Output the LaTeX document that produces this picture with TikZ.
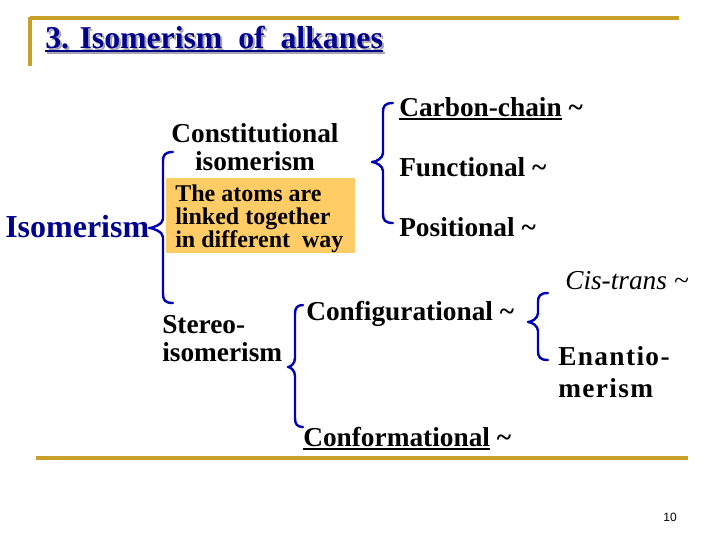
\documentclass[tikz,border=0pt]{standalone}
\usepackage{fontspec}
\setmainfont{Liberation Serif}
\newfontfamily\pagenumfont{Liberation Sans}
\usepackage{xcolor}

\definecolor{ruleGold}{RGB}{200,160,40}
\definecolor{titleBlue}{RGB}{0,0,140}
\definecolor{braceBlue}{RGB}{0,0,180}
\definecolor{noteOrange}{RGB}{255,204,102}
\definecolor{shadowGrey}{RGB}{165,165,175}

% underline with a heavier bar
\newcommand{\ulword}[1]{\setbox0\hbox{#1}\rlap{\rule[-3.2pt]{\wd0}{1.4pt}}\box0\relax}

\begin{document}
\begin{tikzpicture}[x=0.75pt,y=0.75pt,yscale=-1,xscale=1,
  goldrule/.style={draw=ruleGold,line width=2.4pt},
  isobrace/.style={draw=braceBlue,line width=1.8pt,line cap=round,line join=round},
  titletext/.style={font=\fontsize{23.8}{27}\selectfont\bfseries},
  headtext/.style={font=\fontsize{24}{27}\selectfont\bfseries,color=titleBlue},
  itemtext/.style={font=\fontsize{20.5}{21}\selectfont\bfseries},
  notetext/.style={font=\fontsize{18}{17.25}\selectfont\bfseries},
  notebox/.style={fill=noteOrange,draw=none,inner sep=0pt}]
\useasboundingbox (0,0) rectangle (720,540);

%Straight Lines [top rule]
\draw [goldrule]   (30,18) -- (679,18) ;
%Straight Lines [left rule]
\draw [goldrule]   (30,17) -- (30,66) ;
%Straight Lines [bottom rule]
\draw [goldrule]   (36,458) -- (688,458) ;

%Shape: Rectangle [note]
\draw (166,178) node [anchor=north west][notebox,minimum width=141.75pt,minimum height=56.25pt] (note) {};

%Shape: Brace [isomerism]
\draw [isobrace]   (173,152) .. controls (165,152) and (163,155) .. (163,161) -- (163,219) .. controls (163,224) and (153,228) .. (149,228) .. controls (153,228) and (163,232) .. (163,237) -- (163,294) .. controls (163,300) and (165,303) .. (173,303) ;
%Shape: Brace [constitutional]
\draw [isobrace]   (393,103) .. controls (385,103) and (383,106) .. (383,112) -- (383,153) .. controls (383,158) and (376,162) .. (372,162) .. controls (376,162) and (383,166) .. (383,171) -- (383,214) .. controls (383,220) and (385,223) .. (393,223) ;
%Shape: Brace [stereo]
\draw [isobrace]   (303,305) .. controls (297,305) and (295,308) .. (295,314) -- (295,358) .. controls (295,363) and (291,367) .. (288,367) .. controls (291,367) and (295,371) .. (295,376) -- (295,418) .. controls (295,424) and (297,427) .. (303,427) ;
%Shape: Brace [configurational]
\draw [isobrace]   (548,293) .. controls (540,293) and (538,296) .. (538,302) -- (538,313) .. controls (538,318) and (532,322) .. (528,322) .. controls (532,322) and (538,326) .. (538,331) -- (538,351) .. controls (538,357) and (540,360) .. (548,360) ;

% Text Node
\draw (46,50) node [anchor=base west][inner sep=0.75pt] [titletext,color=shadowGrey] (titleshadow) {\ulword{3. Isomerism\ \ of\ \ alkanes}};
% Text Node
\draw (44,48) node [anchor=base west][inner sep=0.75pt] [titletext,color=titleBlue] (title) {\ulword{3. Isomerism\ \ of\ \ alkanes}};
% Text Node
\draw (4,237) node [anchor=base west][inner sep=0.75pt] [headtext] (isomerism) {Isomerism};
% Text Node
\draw (255,147.6) node [inner sep=0pt] [itemtext,align=center] (constitutional) {Constitutional\\isomerism};
% Text Node
\draw (175,218.4) node [anchor=west][inner sep=0pt] [notetext,align=left] (notetext) {The atoms are\\linked together\\in different\ \ way};
% Text Node
\draw (398,116) node [anchor=base west][inner sep=0.75pt] [itemtext] (carbonchain) {\ulword{Carbon-chain} \textasciitilde};
% Text Node
\draw (398,176) node [anchor=base west][inner sep=0.75pt] [itemtext] (functional) {Functional \textasciitilde};
% Text Node
\draw (398,236) node [anchor=base west][inner sep=0.75pt] [itemtext] (positional) {Positional \textasciitilde};
% Text Node
\draw (162,338.6) node [anchor=west][inner sep=0pt] [itemtext,align=left] (stereo) {Stereo-\\isomerism};
% Text Node
\draw (305,320) node [anchor=base west][inner sep=0.75pt] [itemtext] (configurational) {Configurational \textasciitilde};
% Text Node
\draw (302,446) node [anchor=base west][inner sep=0.75pt] [itemtext] (conformational) {\ulword{Conformational} \textasciitilde};
% Text Node
\draw (564,289) node [anchor=base west][inner sep=0.75pt] [font=\fontsize{20.5}{21}\selectfont\itshape] (cistrans) {Cis-trans \textasciitilde};
% Text Node
\draw (558,372.6) node [anchor=west][inner sep=0pt] [font=\fontsize{20.5}{24}\selectfont\bfseries\addfontfeatures{LetterSpace=5},align=left] (enantio) {Enantio-\\merism};
% Text Node
\draw (670,521) node [anchor=base][inner sep=0.75pt] [font=\fontsize{9}{10}\pagenumfont] (pagenum) {10};

\end{tikzpicture}
\end{document}
